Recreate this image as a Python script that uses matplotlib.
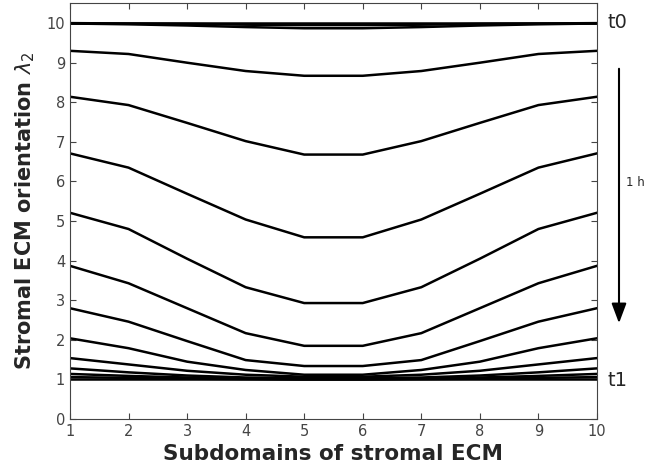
import numpy as np
import matplotlib.pyplot as plt

# Subdomain index (x axis)
subdomains = [1, 2, 3, 4, 5, 6, 7, 8, 9, 10]

# lambda_2 profiles over time (t0 -> t1), values for subdomains 1..5, mirrored for 6..10
half_profiles = [
    [10.00, 10.00, 10.00, 10.00, 10.00],
    [10.00, 9.99, 9.98, 9.96, 9.95],
    [9.99, 9.97, 9.94, 9.90, 9.87],
    [9.30, 9.22, 9.00, 8.79, 8.67],
    [8.14, 7.93, 7.48, 7.02, 6.68],
    [6.71, 6.35, 5.69, 5.04, 4.59],
    [5.21, 4.80, 4.05, 3.33, 2.93],
    [3.87, 3.43, 2.80, 2.17, 1.85],
    [2.80, 2.46, 1.97, 1.49, 1.34],
    [2.04, 1.79, 1.45, 1.24, 1.12],
    [1.54, 1.38, 1.22, 1.12, 1.07],
    [1.28, 1.18, 1.10, 1.05, 1.03],
    [1.14, 1.09, 1.05, 1.02, 1.01],
    [1.06, 1.04, 1.02, 1.01, 1.00],
    [1.00, 1.00, 1.00, 1.00, 1.00],
]

xticks = [1, 2, 3, 4, 5, 6, 7, 8, 9, 10]
yticks = [0, 1, 2, 3, 4, 5, 6, 7, 8, 9, 10]

fig = plt.figure(figsize=(6.45, 4.73), dpi=100)
ax = fig.add_axes([0.1085, 0.114, 0.817, 0.879])

for half in half_profiles:
    vals = half + half[::-1]
    ax.plot(subdomains, vals, color='black', linewidth=1.8)

ax.set_xlim(1, 10)
ax.set_ylim(0, 10.5)
ax.set_xticks(xticks)
ax.set_yticks(yticks)
ax.tick_params(direction='in', top=True, right=True, length=4, width=0.8,
               labelsize=10.5, labelcolor='#444444', color='#444444')
for s in ax.spines.values():
    s.set_color('#444444')
    s.set_linewidth(0.8)

ax.set_xlabel('Subdomains of stromal ECM', fontsize=15.5, fontweight='bold',
              color='#262626', labelpad=4)
ax.set_ylabel(r'Stromal ECM orientation $\lambda_2$', fontsize=15,
              fontweight='bold', color='#262626', labelpad=7)

# annotations on the right
fig.text(607 / 645, 1 - 22 / 473, 't0', fontsize=14, color='#262626',
         va='center', ha='left')
fig.text(607 / 645, 1 - 380 / 473, 't1', fontsize=14, color='#262626',
         va='center', ha='left')
ax.annotate('', xy=(619 / 645, 1 - 326 / 473), xytext=(619 / 645, 1 - 66 / 473),
            xycoords='figure fraction', textcoords='figure fraction',
            arrowprops=dict(arrowstyle='-|>,head_length=1.2,head_width=0.45',
                            color='black', lw=1.5))
fig.text(626 / 645, 1 - 183 / 473, '1 h', fontsize=8.5, color='#262626',
         va='center', ha='left')

fig.savefig('out.png', dpi=100)
